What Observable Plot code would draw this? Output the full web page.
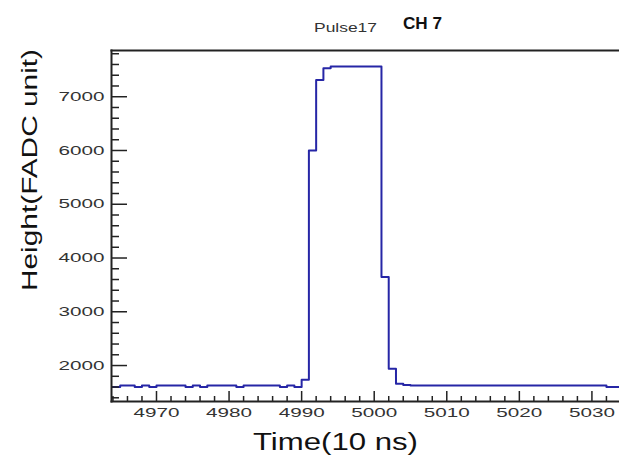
<!DOCTYPE html>
<html><head><meta charset="utf-8">
<script src="https://cdn.jsdelivr.net/npm/d3@7"></script>
<script src="https://cdn.jsdelivr.net/npm/@observablehq/plot@0.6"></script>
<style>
body{margin:0;background:#fff;}
#chart svg{display:block;}
</style></head><body><div id="chart"></div>
<script>
// Bin start (10 ns units) of the first histogram bin; one value per bin
const binStart = 4963;
const heights = [
  1600, 1600, 1630, 1630, 1600, 1630, 1600, 1630, 1630, 1630,   // 4963-4972
  1630, 1600, 1630, 1600, 1630, 1630, 1630, 1630, 1600, 1630,   // 4973-4982
  1630, 1630, 1630, 1630, 1600, 1630, 1600, 1734, 6000, 7310,   // 4983-4992
  7530, 7563, 7563, 7563, 7563, 7563, 7563, 7563, 3645, 1940,   // 4993-5002
  1660, 1640, 1630, 1630, 1630, 1630, 1630, 1630, 1630, 1630,   // 5003-5012
  1630, 1630, 1630, 1630, 1630, 1630, 1630, 1630, 1630, 1630,   // 5013-5022
  1630, 1630, 1630, 1630, 1630, 1630, 1630, 1630, 1630, 1600,   // 5023-5032
  1600                                                          // 5033
];
const xTickLabels = [4970, 4980, 4990, 5000, 5010, 5020, 5030];
const xMinorTicks = [4964, 4966, 4968, 4972, 4974, 4976, 4978, 4982, 4984, 4986, 4988, 4992, 4994, 4996, 4998,
  5002, 5004, 5006, 5008, 5012, 5014, 5016, 5018, 5022, 5024, 5026, 5028, 5032];
const yTickLabels = [2000, 3000, 4000, 5000, 6000, 7000];
const yMinorTicks = [1400, 1600, 1800, 2200, 2400, 2600, 2800, 3200, 3400, 3600, 3800, 4200, 4400, 4600, 4800,
  5200, 5400, 5600, 5800, 6200, 6400, 6600, 6800, 7200, 7400, 7600, 7800];
const titleText = "Pulse17";
const channelText = "CH 7";
const xLabel = "Time(10 ns)";
const yLabel = "Height(FADC unit)";

const pts = heights.map((h, i) => ({t: binStart + i, h}));
pts.push({t: binStart + heights.length, h: heights[heights.length - 1]});

const axisColor = "#222";
const fmt = d => String(d);
const chart = Plot.plot({
  width: 619, height: 469,
  marginLeft: 111, marginRight: 0, marginTop: 50, marginBottom: 68,
  style: {fontFamily: "'Liberation Sans', Arial, sans-serif", background: "#fff", color: axisColor},
  x: {domain: [4963.8, 5033.8]},
  y: {domain: [1331, 7860]},
  marks: [
    Plot.line(pts, {x: "t", y: "h", curve: "step-after", stroke: "#2626a6", strokeWidth: 2, clip: true}),
    Plot.axisY({ticks: yTickLabels, tickSize: 0, tickPadding: 7, fontSize: 13, tickFormat: fmt, label: null, fill: "#333"}),
    Plot.axisY({ticks: yTickLabels, tickSize: 16, dx: 16, text: null, label: null, strokeWidth: 1.5}),
    Plot.axisY({ticks: yMinorTicks, tickSize: 8, dx: 8, text: null, label: null, strokeWidth: 1.5}),
    Plot.axisX({ticks: xTickLabels, tickSize: 0, tickPadding: 6, fontSize: 13, tickFormat: fmt, label: null, fill: "#333"}),
    Plot.axisX({ticks: xTickLabels, tickSize: 10, dy: -10, text: null, label: null, strokeWidth: 1.5}),
    Plot.axisX({ticks: xMinorTicks, tickSize: 5, dy: -5, text: null, label: null, strokeWidth: 1.5}),
    Plot.frame({anchor: "left", stroke: axisColor, strokeWidth: 2}),
    Plot.frame({anchor: "bottom", stroke: axisColor, strokeWidth: 2}),
    Plot.frame({anchor: "top", stroke: axisColor, strokeWidth: 2}),
    Plot.text([yLabel], {frameAnchor: "left", rotate: -90, textAnchor: "start", dx: -82, dy: 65, fontSize: 22, fill: "#111", className: "lbl-y"}),
    Plot.text([xLabel], {frameAnchor: "bottom", dx: -30, dy: 48, fontSize: 23, fill: "#111", className: "lbl-x"}),
    Plot.text([titleText], {frameAnchor: "top", dx: -20, dy: -28, fontSize: 13.5, fill: "#333", className: "ttl-pulse"}),
    Plot.text([channelText], {frameAnchor: "top", dx: 57, dy: -33, fontSize: 16, fontWeight: "bold", fill: "#111", className: "ttl-ch"})
  ]
});
document.getElementById("chart").appendChild(chart);

function stretch(sel, len) {
  chart.querySelectorAll(sel).forEach(t => {
    t.setAttribute("textLength", len);
    t.setAttribute("lengthAdjust", "spacingAndGlyphs");
  });
}
stretch('g[aria-label="y-axis tick label"] text', 46);
stretch('g[aria-label="x-axis tick label"] text', 46);
stretch('.lbl-y text', 242);
stretch('.lbl-x text', 165);
stretch('.ttl-pulse text', 63);
stretch('.ttl-ch text', 39);
</script></body></html>
